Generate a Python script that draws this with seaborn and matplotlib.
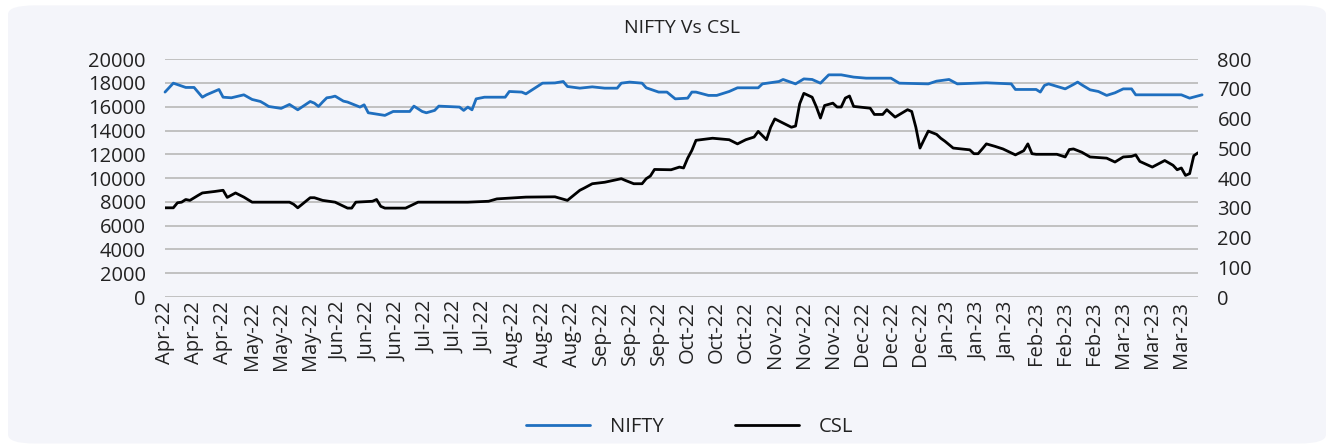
import numpy as np
import pandas as pd
import matplotlib
matplotlib.use("Agg")
import matplotlib.pyplot as plt
from matplotlib.patches import FancyBboxPatch
import seaborn as sns

# values, x = trading day index (Apr-22 .. Mar-23)
nifty_day = [0, 2, 5, 7, 9, 10, 13, 14, 16, 19, 21, 23, 24, 25, 28, 30, 32, 35, 36, 37,
             38, 39, 40, 41, 43, 44, 47, 48, 49, 53, 55, 59, 60, 62, 63, 65, 66, 71, 72, 73,
             74, 75, 77, 82, 83, 86, 87, 91, 94, 96, 97, 100, 103, 106, 109, 110, 112, 115, 116, 119,
             121, 123, 126, 127, 128, 131, 133, 136, 138, 143, 144, 148, 149, 152, 154, 156, 158, 160, 163, 166,
             169, 175, 177, 184, 186, 189, 191, 198, 204, 205, 210, 211, 212, 213, 217, 219, 220, 221, 223, 225,
             227, 229, 231, 233, 234, 245, 247, 250]
nifty_val = [17230, 17980, 17620, 17620, 16800, 17000, 17450, 16800, 16750, 17000, 16610, 16440, 16240, 16020, 15860, 16190, 15740, 16440, 16300, 16020,
             16400, 16750, 16800, 16890, 16470, 16390, 15970, 16160, 15490, 15270, 15600, 15600, 16050, 15600, 15490, 15690, 16050, 15970, 15690, 15970,
             15740, 16660, 16800, 16800, 17280, 17230, 17080, 17980, 18000, 18120, 17700, 17560, 17670, 17560, 17560, 17980, 18070, 17980, 17590, 17230,
             17230, 16660, 16720, 17230, 17230, 16950, 16950, 17280, 17590, 17590, 17920, 18120, 18290, 17920, 18340, 18290, 17980, 18680, 18680, 18490,
             18400, 18400, 17980, 17920, 18150, 18290, 17920, 18010, 17920, 17450, 17450, 17230, 17790, 17920, 17500, 17870, 18070, 17840, 17420, 17280,
             16950, 17170, 17500, 17500, 17000, 17000, 16720, 17000]

csl_day = [0, 2, 3, 4, 5, 6, 8, 9, 12, 14, 15, 17, 19, 21, 30, 31, 32, 35, 36, 38,
           41, 44, 45, 46, 50, 51, 52, 53, 58, 61, 73, 78, 80, 87, 94, 97, 100, 101, 103, 106,
           110, 111, 113, 115, 116, 117, 118, 122, 124, 125, 126, 127, 128, 132, 136, 138, 140, 142, 143, 145,
           146, 147, 151, 152, 153, 154, 156, 157, 158, 159, 161, 162, 163, 164, 165, 166, 170, 171, 173, 174,
           176, 179, 180, 181, 182, 183, 184, 186, 187, 188, 190, 194, 195, 196, 197, 198, 200, 202, 205, 207,
           208, 209, 210, 215, 217, 218, 219, 221, 223, 227, 229, 231, 233, 234, 235, 238, 241, 243, 244, 245,
           246, 247, 248, 249]
csl_val = [300, 300, 317, 319, 328, 325, 342, 350, 355, 359, 335, 350, 336, 319, 319, 312, 300, 334, 334, 325,
           319, 299, 299, 319, 322, 328, 305, 299, 299, 319, 319, 322, 330, 336, 337, 325, 359, 366, 381, 386,
           398, 392, 381, 381, 398, 407, 429, 428, 437, 434, 467, 493, 527, 534, 529, 515, 529, 538, 557, 529,
           571, 599, 571, 575, 650, 685, 672, 640, 602, 644, 652, 639, 639, 669, 676, 641, 635, 614, 614, 630,
           605, 630, 624, 571, 501, 530, 558, 547, 534, 524, 501, 495, 482, 482, 498, 515, 507, 498, 478, 492,
           515, 482, 480, 480, 471, 496, 498, 487, 471, 467, 454, 471, 473, 478, 456, 437, 459, 443, 428, 434,
           409, 415, 475, 485]

months = ["Apr-22", "May-22", "Jun-22", "Jul-22", "Aug-22", "Sep-22",
          "Oct-22", "Nov-22", "Dec-22", "Jan-23", "Feb-23", "Mar-23"]
tick_labels = [m for m in months for _ in range(3)]
tick_step = 7

nifty = pd.DataFrame({"day": nifty_day, "NIFTY": nifty_val})
csl = pd.DataFrame({"day": csl_day, "CSL": csl_val})

sns.set_theme(style="white")
plt.rcParams["font.family"] = ["Open Sans", "DejaVu Sans"]

bg = "#f4f5fa"
blue = "#1f6fbf"
grid_c = "#bdbdbd"

fig = plt.figure(figsize=(13.34, 4.48), dpi=100)
fig.patch.set_facecolor("white")
fig.patches.append(FancyBboxPatch((0.006, 0.01), 0.988, 0.978,
                                  boxstyle="round,pad=0,rounding_size=0.02",
                                  transform=fig.transFigure, facecolor=bg,
                                  edgecolor="none", zorder=-10))

ax = fig.add_axes([0.1237, 0.337, 0.7743, 0.531])
ax.set_facecolor(bg)
ax2 = ax.twinx()

sns.lineplot(data=nifty, x="day", y="NIFTY", ax=ax, color=blue, linewidth=2.0,
             estimator=None, sort=False, clip_on=False)
sns.lineplot(data=csl, x="day", y="CSL", ax=ax2, color="black", linewidth=2.0,
             estimator=None, sort=False)

ax.set_ylim(0, 20000)
ax.set_yticks(np.arange(0, 20001, 2000))
ax2.set_ylim(0, 800)
ax2.set_yticks(np.arange(0, 801, 100))
ax.set_xlim(0, 249)
ax.set_xticks(np.arange(len(tick_labels)) * tick_step)
ax.set_xticklabels(tick_labels, rotation=90)

ax.yaxis.grid(True, color=grid_c, linewidth=1.3)
ax.set_axisbelow(True)
for a in (ax, ax2):
    for s in a.spines.values():
        s.set_visible(False)
    a.set_xlabel("")
    a.set_ylabel("")
ax.tick_params(axis="y", length=0, pad=14, labelsize=14.5, colors="#222222")
ax.tick_params(axis="x", length=0, pad=3, labelsize=14.5, colors="#222222")
ax2.tick_params(axis="y", length=0, pad=14, labelsize=14.5, colors="#222222")

fig.text(0.511, 0.937, "NIFTY Vs CSL", ha="center", va="center",
         fontsize=14, color="#222222")

handles = [plt.Line2D([], [], color=blue, linewidth=2.0),
           plt.Line2D([], [], color="black", linewidth=2.0)]
fig.legend(handles, ["NIFTY", "CSL"], loc="center", bbox_to_anchor=(0.517, 0.047),
           ncol=2, frameon=False, fontsize=14.5, handlelength=3.2,
           columnspacing=3.5, handletextpad=1.0, labelcolor="#222222")

fig.savefig("out.png", dpi=100, facecolor=fig.get_facecolor())
